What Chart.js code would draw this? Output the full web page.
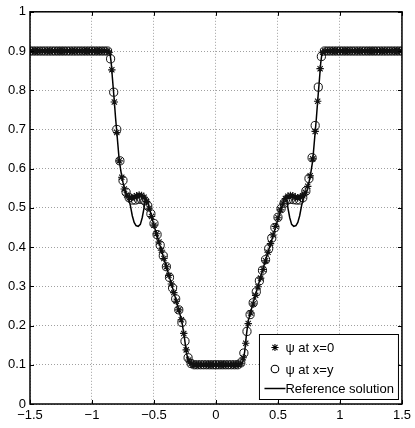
<!DOCTYPE html>
<html>
<head>
<meta charset="utf-8">
<script src="https://cdn.jsdelivr.net/npm/chart.js"></script>
<style>
  body { margin: 0; background: #fff; }
</style>
</head>
<body>
<canvas id="psi-chart" width="415" height="428"></canvas>
<script>
// psi sampled along the line x=0
var axisX = [-1.5, -1.48, -1.46, -1.44, -1.42, -1.4, -1.38, -1.36, -1.34, -1.32, -1.3, -1.28, -1.26, -1.24,
             -1.22, -1.2, -1.18, -1.16, -1.14, -1.12, -1.1, -1.08, -1.06, -1.04, -1.02, -1, -0.98, -0.96,
             -0.94, -0.92, -0.9, -0.88,
             -0.86, -0.84, -0.82, -0.8, -0.78, -0.76, -0.74, -0.72, -0.7, -0.68, -0.66, -0.64, -0.62, -0.6,
             -0.58, -0.56, -0.54, -0.52, -0.5, -0.48, -0.46, -0.44, -0.42, -0.4, -0.38, -0.36, -0.34, -0.32,
             -0.3, -0.28, -0.26, -0.24, -0.22,
             -0.2, -0.18, -0.16, -0.14, -0.12, -0.1, -0.08, -0.06, -0.04, -0.02, 0, 0.02, 0.04, 0.06, 0.08,
             0.1, 0.12, 0.14, 0.16, 0.18, 0.2,
             0.22, 0.24, 0.26, 0.28, 0.3, 0.32, 0.34, 0.36, 0.38, 0.4, 0.42, 0.44, 0.46, 0.48, 0.5, 0.52,
             0.54, 0.56, 0.58, 0.6, 0.62, 0.64, 0.66, 0.68, 0.7, 0.72, 0.74, 0.76, 0.78, 0.8, 0.82, 0.84, 0.86,
             0.88, 0.9, 0.92, 0.94, 0.96, 0.98, 1, 1.02, 1.04, 1.06, 1.08, 1.1, 1.12, 1.14, 1.16, 1.18, 1.2,
             1.22, 1.24, 1.26, 1.28, 1.3, 1.32, 1.34, 1.36, 1.38, 1.4, 1.42, 1.44, 1.46, 1.48, 1.5];
var axisPsi = [0.9, 0.9, 0.9, 0.9, 0.9, 0.9, 0.9, 0.9, 0.9, 0.9, 0.9, 0.9, 0.9, 0.9,
               0.9, 0.9, 0.9, 0.9, 0.9, 0.9, 0.9, 0.9, 0.9, 0.9, 0.9, 0.9, 0.9, 0.9,
               0.9, 0.9, 0.9, 0.9,
               0.897, 0.852, 0.77, 0.692, 0.62, 0.578, 0.548, 0.533, 0.526, 0.526, 0.528, 0.531, 0.533, 0.532,
               0.527, 0.516, 0.499, 0.478, 0.456, 0.434, 0.413, 0.392, 0.371, 0.35, 0.328, 0.306, 0.284, 0.262,
               0.24, 0.215, 0.18, 0.138, 0.112,
               0.103, 0.1, 0.1, 0.1, 0.1, 0.1, 0.1, 0.1, 0.1, 0.1, 0.1, 0.1, 0.1, 0.1, 0.1,
               0.1, 0.1, 0.1, 0.1, 0.1, 0.104,
               0.118, 0.155, 0.205, 0.232, 0.255, 0.277, 0.299, 0.321, 0.343, 0.365, 0.387, 0.409, 0.431, 0.453,
               0.475, 0.495, 0.512, 0.524, 0.53, 0.532, 0.531, 0.528, 0.526, 0.527, 0.531, 0.54, 0.555, 0.582,
               0.625, 0.695, 0.772, 0.855, 0.897,
               0.9, 0.9, 0.9, 0.9, 0.9, 0.9, 0.9, 0.9, 0.9, 0.9, 0.9, 0.9, 0.9, 0.9, 0.9, 0.9, 0.9,
               0.9, 0.9, 0.9, 0.9, 0.9, 0.9, 0.9, 0.9, 0.9, 0.9, 0.9, 0.9, 0.9, 0.9, 0.9];

// psi sampled along the diagonal x=y
var diagX = [-1.5, -1.475, -1.45, -1.425, -1.4, -1.375, -1.35, -1.325, -1.3, -1.275, -1.25, -1.225, -1.2,
             -1.175, -1.15, -1.125, -1.1, -1.075, -1.05, -1.025, -1, -0.975, -0.95, -0.925, -0.9, -0.875,
             -0.85, -0.825, -0.8, -0.775, -0.75, -0.725, -0.7, -0.675, -0.65, -0.625, -0.6, -0.575, -0.55,
             -0.525, -0.5, -0.475, -0.45, -0.425, -0.4, -0.375, -0.35, -0.325, -0.3, -0.275, -0.25, -0.225, -0.2,
             -0.175, -0.15, -0.125, -0.1, -0.075, -0.05, -0.025, 0, 0.025, 0.05, 0.075, 0.1, 0.125, 0.15, 0.175,
             0.2, 0.225, 0.25, 0.275, 0.3, 0.325, 0.35, 0.375, 0.4, 0.425, 0.45, 0.475, 0.5, 0.525, 0.55,
             0.575, 0.6, 0.625, 0.65, 0.675, 0.7, 0.725, 0.75, 0.775, 0.8, 0.825, 0.85,
             0.875, 0.9, 0.925, 0.95, 0.975, 1, 1.025, 1.05, 1.075, 1.1, 1.125, 1.15, 1.175, 1.2, 1.225, 1.25,
             1.275, 1.3, 1.325, 1.35, 1.375, 1.4, 1.425, 1.45, 1.475, 1.5];
var diagPsi = [0.9, 0.9, 0.9, 0.9, 0.9, 0.9, 0.9, 0.9, 0.9, 0.9, 0.9, 0.9, 0.9,
               0.9, 0.9, 0.9, 0.9, 0.9, 0.9, 0.9, 0.9, 0.9, 0.9, 0.9, 0.9, 0.9,
               0.88, 0.795, 0.7, 0.62, 0.57, 0.54, 0.526, 0.52, 0.52, 0.522, 0.522, 0.518, 0.505,
               0.485, 0.46, 0.432, 0.405, 0.378, 0.35, 0.323, 0.296, 0.268, 0.24, 0.208, 0.16, 0.118, 0.103,
               0.1, 0.1, 0.1, 0.1, 0.1, 0.1, 0.1, 0.1, 0.1, 0.1, 0.1, 0.1, 0.1, 0.1, 0.1,
               0.105, 0.13, 0.185, 0.228, 0.258, 0.286, 0.314, 0.341, 0.368, 0.396, 0.423, 0.45, 0.476, 0.498,
               0.512, 0.52, 0.522, 0.521, 0.52, 0.52, 0.526, 0.543, 0.575, 0.628, 0.71, 0.808, 0.886,
               0.9, 0.9, 0.9, 0.9, 0.9, 0.9, 0.9, 0.9, 0.9, 0.9, 0.9, 0.9, 0.9,
               0.9, 0.9, 0.9, 0.9, 0.9, 0.9, 0.9, 0.9, 0.9, 0.9, 0.9, 0.9, 0.9];

// reference solution
var refX = [-1.5, -0.87, -0.855, -0.845, -0.835, -0.822, -0.81, -0.795, -0.78, -0.765, -0.75, -0.735,
            -0.72, -0.705, -0.69, -0.675, -0.66, -0.645, -0.627, -0.61, -0.595, -0.58, -0.568, -0.555,
            -0.5, -0.45, -0.4, -0.35, -0.3, -0.275, -0.255, -0.24, -0.228, -0.215, -0.2,
            0.2, 0.212, 0.222, 0.232, 0.245, 0.26, 0.3, 0.35, 0.4, 0.45, 0.5, 0.555,
            0.568, 0.58, 0.595, 0.61, 0.627, 0.645, 0.66, 0.675, 0.69, 0.705, 0.72, 0.735, 0.75, 0.765,
            0.78, 0.795, 0.81, 0.822, 0.835, 0.845, 0.855, 0.87, 1.5];
var refPsi = [0.9, 0.9, 0.895, 0.87, 0.83, 0.78, 0.73, 0.675, 0.62, 0.59, 0.565, 0.545,
              0.532, 0.525, 0.505, 0.48, 0.463, 0.455, 0.453, 0.458, 0.475, 0.5, 0.525, 0.52,
              0.455, 0.402, 0.35, 0.296, 0.24, 0.21, 0.17, 0.135, 0.115, 0.104, 0.1,
              0.1, 0.104, 0.115, 0.135, 0.175, 0.212, 0.258, 0.313, 0.367, 0.418, 0.472, 0.525,
              0.525, 0.5, 0.475, 0.458, 0.453, 0.455, 0.463, 0.48, 0.505, 0.525, 0.532, 0.545, 0.565, 0.59,
              0.62, 0.675, 0.73, 0.78, 0.83, 0.87, 0.895, 0.9, 0.9];

var xTicks = [-1.5, -1, -0.5, 0, 0.5, 1, 1.5];
var xTickLabels = ['\u22121.5', '\u22121', '\u22120.5', '0', '0.5', '1', '1.5'];
var yTicks = [0, 0.1, 0.2, 0.3, 0.4, 0.5, 0.6, 0.7, 0.8, 0.9, 1];
var yTickLabels = ['0', '0.1', '0.2', '0.3', '0.4', '0.5', '0.6', '0.7', '0.8', '0.9', '1'];

var legendItems = ['\u03c8 at x=0', '\u03c8 at x=y', 'Reference solution'];

function pairs(xs, ys) {
  return xs.map(function (x, i) { return { x: x, y: ys[i] }; });
}

function drawStar(ctx, x, y, r) {
  ctx.beginPath();
  ctx.moveTo(x - r, y); ctx.lineTo(x + r, y);
  ctx.moveTo(x, y - r); ctx.lineTo(x, y + r);
  var d = r * 0.7071;
  ctx.moveTo(x - d, y - d); ctx.lineTo(x + d, y + d);
  ctx.moveTo(x - d, y + d); ctx.lineTo(x + d, y - d);
  ctx.stroke();
}

// box round the axes, inward ticks and the legend in the lower right corner
var framePlugin = {
  id: 'frame',
  afterDraw: function (chart) {
    var ctx = chart.ctx, a = chart.chartArea;
    var xs = chart.scales.x, ys = chart.scales.y;
    ctx.save();
    ctx.strokeStyle = '#000';
    ctx.lineWidth = 1;
    ctx.beginPath();
    xTicks.forEach(function (v) {
      var px = Math.round(xs.getPixelForValue(v)) + 0.5;
      ctx.moveTo(px, a.bottom); ctx.lineTo(px, a.bottom - 4);
      ctx.moveTo(px, a.top); ctx.lineTo(px, a.top + 4);
    });
    yTicks.forEach(function (v) {
      var py = Math.round(ys.getPixelForValue(v)) + 0.5;
      ctx.moveTo(a.left, py); ctx.lineTo(a.left + 4, py);
      ctx.moveTo(a.right, py); ctx.lineTo(a.right - 4, py);
    });
    ctx.stroke();

    ctx.lineWidth = 1.5;
    ctx.strokeRect(a.left, a.top, a.right - a.left, a.bottom - a.top);

    // legend
    var bw = 139, bh = 65;
    var bx = a.right - 142.5, by = a.bottom - 69.5;
    ctx.fillStyle = '#fff';
    ctx.fillRect(bx, by, bw, bh);
    ctx.lineWidth = 1;
    ctx.strokeRect(bx, by, bw, bh);

    ctx.fillStyle = '#000';
    ctx.font = '13px "Liberation Sans", Arial, sans-serif';
    ctx.textBaseline = 'middle';
    ctx.textAlign = 'left';
    var rows = [by + 13, by + 34.5, by + 54];
    ctx.lineWidth = 1.1;
    drawStar(ctx, bx + 15.5, rows[0], 3.6);
    ctx.beginPath();
    ctx.arc(bx + 15.5, rows[1], 3.8, 0, Math.PI * 2);
    ctx.stroke();
    ctx.lineWidth = 1.5;
    ctx.beginPath();
    ctx.moveTo(bx + 5, rows[2]); ctx.lineTo(bx + 26, rows[2]);
    ctx.stroke();
    legendItems.forEach(function (t, i) {
      ctx.fillText(t, bx + 26, rows[i] + 1);
    });
    ctx.restore();
  }
};

Chart.defaults.font.family = '"Liberation Sans", Arial, sans-serif';
Chart.defaults.font.size = 13;
Chart.defaults.color = '#000';

new Chart(document.getElementById('psi-chart'), {
  type: 'scatter',
  data: {
    datasets: [{
      label: legendItems[0],
      data: pairs(axisX, axisPsi),
      pointStyle: 'star',
      pointRadius: 3.7,
      borderColor: '#111',
      borderWidth: 1.1,
      backgroundColor: 'transparent'
    }, {
      label: legendItems[1],
      data: pairs(diagX, diagPsi),
      pointStyle: 'circle',
      pointRadius: 4.1,
      borderColor: '#111',
      borderWidth: 1,
      backgroundColor: 'transparent'
    }, {
      label: legendItems[2],
      data: pairs(refX, refPsi),
      showLine: true,
      pointRadius: 0,
      borderColor: '#000',
      borderWidth: 1.5,
      tension: 0,
      fill: false
    }]
  },
  options: {
    responsive: false,
    animation: false,
    layout: { padding: { top: 9, right: 9, left: 0, bottom: 0 } },
    plugins: {
      legend: { display: false },
      tooltip: { enabled: false }
    },
    scales: {
      x: {
        type: 'linear',
        min: -1.5,
        max: 1.5,
        afterFit: function (s) { s.height = 24; },
        afterBuildTicks: function (s) { s.ticks = xTicks.map(function (v) { return { value: v }; }); },
        ticks: {
          autoSkip: false,
          maxRotation: 0,
          padding: 4,
          callback: function (v) { return xTickLabels[xTicks.indexOf(v)]; }
        },
        grid: { color: '#a0a0a0', lineWidth: 1, drawTicks: false },
        border: { display: false, dash: [1, 2] }
      },
      y: {
        type: 'linear',
        min: 0,
        max: 1,
        afterFit: function (s) { s.width = 30; },
        afterBuildTicks: function (s) { s.ticks = yTicks.map(function (v) { return { value: v }; }); },
        ticks: {
          padding: 4,
          callback: function (v) { return yTickLabels[yTicks.indexOf(v)]; }
        },
        grid: { color: '#a0a0a0', lineWidth: 1, drawTicks: false },
        border: { display: false, dash: [1, 2] }
      }
    }
  },
  plugins: [framePlugin]
});
</script>
</body>
</html>
